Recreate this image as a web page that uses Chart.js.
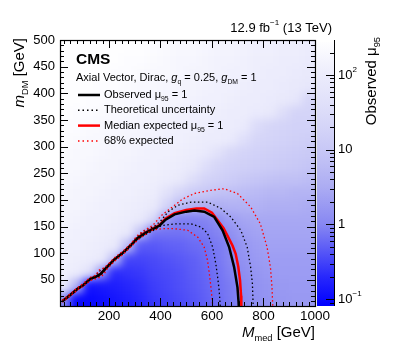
<!DOCTYPE html>
<html>
<head>
<meta charset="utf-8">
<script src="https://cdn.jsdelivr.net/npm/chart.js@4.4.1/dist/chart.umd.min.js"></script>
<style>
  html, body { margin: 0; padding: 0; background: #fff; }
</style>
</head>
<body>
<canvas id="chart" width="399" height="351"></canvas>
<script>
// --- DATA ---
// heatmap bins (GeV)
const medEdges = [0, 50, 100, 150, 200, 250, 300, 350, 400, 450, 500, 550, 600, 650, 700, 750, 800, 850, 900, 950, 1000];
const dmEdges = [0, 25, 50, 75, 100, 125, 150, 175, 200, 225, 250, 275, 300, 325, 350, 375, 400, 425, 450, 475, 500];
// log10(observed mu95), rows from top (m_DM 475-500) to bottom (0-25)
const logMu = [
  [2.44, 2.44, 2.44, 2.44, 2.44, 2.44, 2.44, 2.4, 2.35, 2.3, 2.3, 2.25, 2.2, 2.2, 2.15, 2.1, 2.1, 2.05, 2.05, 2.0],
  [2.44, 2.44, 2.44, 2.44, 2.44, 2.4, 2.4, 2.35, 2.3, 2.25, 2.25, 2.2, 2.15, 2.15, 2.1, 2.05, 2.05, 2.0, 2.0, 1.95],
  [2.44, 2.44, 2.44, 2.44, 2.4, 2.4, 2.35, 2.3, 2.3, 2.25, 2.2, 2.2, 2.15, 2.1, 2.1, 2.05, 2.0, 2.0, 1.95, 1.9],
  [2.44, 2.44, 2.44, 2.4, 2.4, 2.35, 2.3, 2.3, 2.25, 2.2, 2.2, 2.15, 2.1, 2.1, 2.05, 2.0, 2.0, 1.95, 1.9, 1.85],
  [2.44, 2.44, 2.4, 2.4, 2.35, 2.3, 2.3, 2.25, 2.2, 2.2, 2.15, 2.1, 2.1, 2.05, 2.0, 2.0, 1.95, 1.9, 1.8, 1.35],
  [2.44, 2.4, 2.4, 2.35, 2.3, 2.3, 2.25, 2.2, 2.2, 2.15, 2.1, 2.1, 2.05, 2.0, 2.0, 1.95, 1.9, 1.55, 1.3, 1.3],
  [2.4, 2.4, 2.35, 2.3, 2.3, 2.25, 2.2, 2.2, 2.15, 2.1, 2.1, 2.05, 2.0, 2.0, 1.95, 1.5, 1.35, 1.3, 1.25, 1.25],
  [2.4, 2.35, 2.3, 2.3, 2.25, 2.2, 2.2, 2.15, 2.1, 2.1, 2.05, 2.0, 2.0, 1.95, 1.6, 1.35, 1.3, 1.25, 1.2, 1.15],
  [2.35, 2.3, 2.3, 2.25, 2.2, 2.2, 2.15, 2.1, 2.1, 2.05, 2.0, 1.95, 1.7, 1.4, 1.3, 1.25, 1.2, 1.15, 1.1, 1.05],
  [2.3, 2.3, 2.25, 2.2, 2.2, 2.15, 2.1, 2.1, 2.05, 2.0, 1.9, 1.6, 1.35, 1.25, 1.2, 1.15, 1.1, 1.05, 1.0, 0.95],
  [2.3, 2.25, 2.2, 2.2, 2.15, 2.1, 2.1, 2.05, 2.0, 1.9, 1.55, 1.3, 1.2, 1.1, 1.0, 0.95, 0.9, 0.85, 0.85, 0.8],
  [2.25, 2.2, 2.2, 2.15, 2.1, 2.1, 2.05, 2.0, 1.7, 1.35, 1.1, 1.0, 0.9, 0.85, 0.8, 0.75, 0.7, 0.7, 0.65, 0.65],
  [2.2, 2.2, 2.15, 2.1, 2.1, 2.05, 2.0, 1.9, 1.3, 0.8, 0.6, 0.55, 0.55, 0.6, 0.6, 0.6, 0.55, 0.55, 0.55, 0.5],
  [2.2, 2.15, 2.1, 2.1, 2.05, 2.0, 1.9, 1.4, 0.2, -0.05, -0.05, -0.02, 0.1, 0.3, 0.4, 0.45, 0.45, 0.45, 0.45, 0.45],
  [2.15, 2.1, 2.1, 2.05, 2.0, 1.9, 0.9, -0.15, -0.15, -0.15, -0.12, -0.1, -0.02, 0.12, 0.3, 0.38, 0.4, 0.4, 0.4, 0.4],
  [2.1, 2.1, 2.05, 2.0, 1.9, 0.8, -0.35, -0.35, -0.3, -0.28, -0.22, -0.18, -0.1, 0.02, 0.2, 0.3, 0.35, 0.35, 0.35, 0.35],
  [2.1, 2.05, 2.0, 1.9, 0.8, -0.5, -0.5, -0.45, -0.4, -0.35, -0.3, -0.22, -0.12, 0.0, 0.15, 0.25, 0.3, 0.3, 0.3, 0.3],
  [2.05, 2.0, 1.6, 0.2, -0.68, -0.62, -0.58, -0.5, -0.45, -0.4, -0.32, -0.25, -0.15, -0.04, 0.1, 0.2, 0.25, 0.28, 0.28, 0.28],
  [1.9, 0.6, -0.9, -0.85, -0.8, -0.72, -0.65, -0.55, -0.48, -0.42, -0.35, -0.28, -0.18, -0.08, 0.05, 0.15, 0.2, 0.24, 0.26, 0.26],
  [0.0, -1.0, -1.0, -0.95, -0.88, -0.8, -0.7, -0.6, -0.52, -0.45, -0.38, -0.3, -0.2, -0.1, 0.02, 0.12, 0.18, 0.22, 0.24, 0.24]
];

// contours (M_med, m_DM) in GeV
const obsMed = [19, 40, 60, 77, 100, 128, 150, 167, 192, 220, 257, 285, 308, 330, 346, 370, 397, 420, 455, 500, 532, 570, 609, 641, 667, 686, 699, 703, 704];
const obsDm  = [10, 18, 26, 33, 40, 52, 56, 61, 74, 88, 102, 115, 127, 134, 139, 145, 152, 163, 173, 178, 180, 178, 168, 143, 111, 74, 36, 10, 1];
const thUpMed = [19, 40, 60, 77, 100, 128, 150, 160, 170, 192, 220, 257, 285, 308, 330, 350, 375, 400, 430, 468, 519, 583, 635, 673, 712, 737, 750, 757, 760];
const thUpDm  = [11, 19, 27, 34, 42, 54, 58, 66, 68, 76, 90, 104, 117, 130, 140, 145, 150, 160, 178, 190, 196, 196, 184, 168, 143, 111, 74, 43, 1];
const thDnMed = [19, 40, 60, 77, 100, 128, 150, 160, 175, 192, 220, 257, 285, 308, 330, 370, 404, 455, 519, 558, 583, 603, 615, 622, 628, 632];
const thDnDm  = [9, 17, 25, 32, 39, 50, 54, 56, 62, 72, 86, 100, 113, 124, 132, 142, 152, 155, 155, 149, 137, 111, 80, 55, 30, 1];
const expMed = [19, 40, 60, 77, 100, 128, 150, 167, 192, 220, 257, 285, 308, 330, 346, 370, 397, 420, 455, 500, 540, 570, 600, 622, 645, 660, 680, 692, 702, 709, 713, 714];
const expDm  = [10, 18, 26, 33, 40, 52, 56, 61, 74, 88, 102, 115, 127, 136, 140, 146, 153, 165, 175, 181, 184, 184, 176, 162, 147, 133, 114, 99, 75, 49, 20, 1];
const exp68UpMed = [19, 40, 60, 77, 100, 128, 150, 160, 172, 192, 220, 257, 285, 308, 330, 370, 404, 455, 487, 532, 596, 647, 699, 750, 788, 814, 827, 833, 836];
const exp68UpDm  = [12, 20, 28, 35, 43, 55, 59, 68, 70, 77, 91, 105, 118, 132, 141, 152, 171, 190, 202, 212, 218, 221, 212, 187, 155, 111, 74, 36, 1];
const exp68DnMed = [19, 40, 60, 77, 100, 128, 150, 165, 180, 192, 220, 257, 285, 308, 320, 345, 365, 404, 455, 506, 545, 570, 583, 590, 596, 603];
const exp68DnDm  = [8, 16, 24, 31, 38, 49, 52, 55, 60, 70, 84, 99, 112, 123, 128, 136, 143, 146, 146, 143, 130, 111, 86, 61, 36, 1];

// axis ticks
const xTicks = [200, 400, 600, 800, 1000];
const yTicks = [50, 100, 150, 200, 250, 300, 350, 400, 450, 500];
const muTicks = [0.1, 1, 10, 100];

// --- STYLE ---
const FONT = "'Liberation Sans', Arial, Helvetica, sans-serif";
const palLog = [-1.09, -0.7, -0.3, 0, 0.5, 1.0, 1.5, 2.0, 2.47];
const palRGB = [[0, 0, 255], [40, 40, 252], [95, 95, 246], [135, 135, 242], [172, 172, 243], [200, 200, 246], [220, 220, 249], [236, 236, 252], [255, 255, 255]];

function colorFor(L) {
  if (L <= palLog[0]) return `rgb(${palRGB[0].join(',')})`;
  for (let i = 1; i < palLog.length; i++) {
    if (L <= palLog[i]) {
      const t = (L - palLog[i - 1]) / (palLog[i] - palLog[i - 1]);
      const c = palRGB[i - 1].map((v, k) => Math.round(v + t * (palRGB[i][k] - v)));
      return `rgb(${c.join(',')})`;
    }
  }
  return `rgb(${palRGB[palRGB.length - 1].join(',')})`;
}

const toPts = (xs, ys) => xs.map((v, i) => ({ x: v, y: ys[i] }));

// draw text made of pieces: {t, sub, sup, it, b}
function richWidth(ctx, parts, size) {
  let w = 0;
  parts.forEach(p => {
    const s = (p.sub || p.sup) ? size * 0.62 : size;
    ctx.font = `${p.it ? 'italic ' : ''}${p.b ? 'bold ' : ''}${s}px ${FONT}`;
    w += ctx.measureText(p.t).width;
  });
  return w;
}
function drawRich(ctx, parts, x, y, size, align) {
  let cx = align === 'right' ? x - richWidth(ctx, parts, size) : x;
  ctx.textAlign = 'left';
  ctx.textBaseline = 'middle';
  parts.forEach(p => {
    const s = (p.sub || p.sup) ? size * 0.62 : size;
    ctx.font = `${p.it ? 'italic ' : ''}${p.b ? 'bold ' : ''}${s}px ${FONT}`;
    const dy = p.sub ? size * 0.38 : (p.sup ? -size * 0.38 : 0);
    ctx.fillText(p.t, cx, y + dy);
    cx += ctx.measureText(p.t).width;
  });
}

// --- PLUGINS ---
// cells are painted on a scratch canvas, then copied in with a soft blur like the ROOT smoothing
const heatmap = {
  id: 'heatmap',
  beforeDatasetsDraw(chart) {
    const { ctx, chartArea: a, scales: { x, y } } = chart;
    const off = document.createElement('canvas');
    off.width = chart.width;
    off.height = chart.height;
    const o = off.getContext('2d');
    const nRows = logMu.length, nCols = medEdges.length - 1, pad = 20;
    logMu.forEach((row, r) => {
      const mLo = dmEdges[nRows - 1 - r], mHi = dmEdges[nRows - r];
      let y0 = y.getPixelForValue(mHi), y1 = y.getPixelForValue(mLo);
      if (r === 0) y0 -= pad;
      if (r === nRows - 1) y1 += pad;
      row.forEach((L, c) => {
        let x0 = x.getPixelForValue(medEdges[c]), x1 = x.getPixelForValue(medEdges[c + 1]);
        if (c === 0) x0 -= pad;
        if (c === nCols - 1) x1 += pad;
        o.fillStyle = colorFor(L);
        o.fillRect(Math.floor(x0), Math.floor(y0), Math.ceil(x1 - x0) + 1, Math.ceil(y1 - y0) + 1);
      });
    });
    ctx.save();
    ctx.beginPath();
    ctx.rect(a.left, a.top, a.right - a.left, a.bottom - a.top);
    ctx.clip();
    ctx.filter = 'blur(4px)';
    ctx.drawImage(off, 0, 0);
    ctx.restore();
  }
};

const decorations = {
  id: 'decorations',
  afterDraw(chart) {
    const { ctx, chartArea: a, scales: { x, y, mu } } = chart;
    ctx.save();

    // colour bar
    const barL = a.right + 2, barR = a.right + 19;
    const top = mu.getPixelForValue(mu.max), bot = mu.getPixelForValue(mu.min);
    const grad = ctx.createLinearGradient(0, top, 0, bot);
    palLog.forEach((L, i) => {
      const p = (mu.getPixelForValue(Math.pow(10, L)) - top) / (bot - top);
      grad.addColorStop(Math.min(1, Math.max(0, p)), `rgb(${palRGB[i].join(',')})`);
    });
    ctx.fillStyle = grad;
    ctx.fillRect(barL, top + 2, barR - barL, bot - top - 2);

    // colour bar ticks
    ctx.strokeStyle = '#000';
    ctx.lineWidth = 1;
    ctx.beginPath();
    for (let d = -2; d <= 2; d++) {
      for (let k = 1; k <= 9; k++) {
        const v = k * Math.pow(10, d);
        if (v < mu.min || v > mu.max) continue;
        const py = Math.round(mu.getPixelForValue(v)) + 0.5;
        const len = k === 1 ? 8 : 4;
        ctx.moveTo(barR, py);
        ctx.lineTo(barR - len, py);
      }
    }
    ctx.moveTo(barR + 0.5, top);
    ctx.lineTo(barR + 0.5, bot);
    ctx.stroke();

    // colour bar labels
    ctx.fillStyle = '#000';
    const muLabels = { 0.1: [{ t: '10' }, { t: '\u22121', sup: true }], 1: [{ t: '1' }], 10: [{ t: '10' }], 100: [{ t: '10' }, { t: '2', sup: true }] };
    muTicks.forEach(v => drawRich(ctx, muLabels[v], barR + 4, mu.getPixelForValue(v), 13, 'left'));

    // frame and inward ticks
    ctx.strokeStyle = '#000';
    ctx.lineWidth = 1;
    ctx.beginPath();
    for (let v = 25; v <= 1000; v += 25) {
      if (v < x.min) continue;
      const px = Math.round(x.getPixelForValue(v)) + 0.5;
      const len = v % 200 === 0 ? 8 : 4;
      ctx.moveTo(px, a.bottom); ctx.lineTo(px, a.bottom - len);
      ctx.moveTo(px, a.top); ctx.lineTo(px, a.top + len);
    }
    for (let v = 10; v <= 500; v += 10) {
      const py = Math.round(y.getPixelForValue(v)) + 0.5;
      const len = v % 50 === 0 ? 8 : 4;
      ctx.moveTo(a.left, py); ctx.lineTo(a.left + len, py);
      ctx.moveTo(a.right, py); ctx.lineTo(a.right - len, py);
    }
    ctx.stroke();
    ctx.lineWidth = 1.2;
    ctx.strokeRect(Math.round(a.left) + 0.5, Math.round(a.top) + 0.5, Math.round(a.right - a.left), Math.round(a.bottom - a.top));

    // axis titles
    ctx.fillStyle = '#000';
    drawRich(ctx, [{ t: 'M', it: true }, { t: 'med', sub: true }, { t: ' [GeV]' }], a.right, 333, 15, 'right');

    ctx.save();
    ctx.translate(20, a.top - 2);
    ctx.rotate(-Math.PI / 2);
    drawRich(ctx, [{ t: 'm', it: true }, { t: 'DM', sub: true }, { t: ' [GeV]' }], 0, 0, 15, 'right');
    ctx.restore();

    ctx.save();
    ctx.translate(372, a.top - 3);
    ctx.rotate(-Math.PI / 2);
    drawRich(ctx, [{ t: 'Observed \u03bc' }, { t: '95', sub: true }], 0, 0, 15, 'right');
    ctx.restore();

    // luminosity label
    drawRich(ctx, [{ t: '12.9 fb' }, { t: '\u22121', sup: true }, { t: ' (13 TeV)' }], 332, 28, 13, 'right');

    // CMS label and model text
    drawRich(ctx, [{ t: 'CMS', b: true }], 76, 60, 15.5, 'left');
    drawRich(ctx, [{ t: 'Axial Vector, Dirac, ' }, { t: 'g', it: true }, { t: 'q', sub: true },
      { t: ' = 0.25, ' }, { t: 'g', it: true }, { t: 'DM', sub: true }, { t: ' = 1' }], 76, 78, 11, 'left');

    // legend
    const legend = [
      { color: '#000', dash: [], w: 2.5, parts: [{ t: 'Observed \u03bc' }, { t: '95', sub: true }, { t: ' = 1' }] },
      { color: '#000', dash: [1.5, 3], w: 1.5, parts: [{ t: 'Theoretical uncertainty' }] },
      { color: '#ff0000', dash: [], w: 2.5, parts: [{ t: 'Median expected \u03bc' }, { t: '95', sub: true }, { t: ' = 1' }] },
      { color: '#ff0000', dash: [1.5, 3], w: 1.5, parts: [{ t: '68% expected' }] }
    ];
    legend.forEach((e, i) => {
      const ly = 95 + i * 15.3;
      ctx.strokeStyle = e.color;
      ctx.lineWidth = e.w;
      ctx.setLineDash(e.dash);
      ctx.beginPath();
      ctx.moveTo(78, ly); ctx.lineTo(100, ly);
      ctx.stroke();
      ctx.setLineDash([]);
      ctx.fillStyle = '#000';
      drawRich(ctx, e.parts, 104, ly, 11, 'left');
    });

    ctx.restore();
  }
};

// --- CHART ---
const dotted = [1.5, 2.5];
new Chart(document.getElementById('chart'), {
  type: 'scatter',
  data: {
    datasets: [
      { label: '68% expected (up)', data: toPts(exp68UpMed, exp68UpDm), borderColor: '#ff0000', borderWidth: 1.3, borderDash: dotted },
      { label: '68% expected (down)', data: toPts(exp68DnMed, exp68DnDm), borderColor: '#ff0000', borderWidth: 1.3, borderDash: dotted },
      { label: 'Theoretical uncertainty (up)', data: toPts(thUpMed, thUpDm), borderColor: '#000', borderWidth: 1.3, borderDash: dotted },
      { label: 'Theoretical uncertainty (down)', data: toPts(thDnMed, thDnDm), borderColor: '#000', borderWidth: 1.3, borderDash: dotted },
      { label: 'Observed', data: toPts(obsMed, obsDm), borderColor: '#000', borderWidth: 2.5 },
      { label: 'Median expected', data: toPts(expMed, expDm), borderColor: '#ff0000', borderWidth: 2.5 }
    ].map(d => Object.assign(d, { showLine: true, pointRadius: 0, tension: 0, fill: false }))
  },
  options: {
    responsive: false,
    devicePixelRatio: 1,
    animation: false,
    layout: { padding: { top: 40, right: 84, left: 0, bottom: 0 } },
    plugins: { legend: { display: false }, tooltip: { enabled: false } },
    scales: {
      x: {
        type: 'linear', min: 10, max: 1000, position: 'bottom',
        grid: { display: false, drawTicks: false }, border: { display: false },
        afterBuildTicks: s => { s.ticks = xTicks.map(v => ({ value: v })); },
        afterFit: s => { s.height = 45; },
        ticks: { color: '#000', font: { family: FONT, size: 13.5 }, padding: 2, maxRotation: 0, autoSkip: false, callback: v => String(v) }
      },
      y: {
        type: 'linear', min: 1, max: 500, position: 'left',
        grid: { display: false, drawTicks: false }, border: { display: false },
        afterBuildTicks: s => { s.ticks = yTicks.map(v => ({ value: v })); },
        afterFit: s => { s.width = 60; },
        ticks: { color: '#000', font: { family: FONT, size: 13 }, padding: 5, autoSkip: false, callback: v => String(v) }
      },
      mu: {
        type: 'logarithmic', min: 0.081, max: 294, position: 'right', display: false
      }
    }
  },
  plugins: [heatmap, decorations]
});
</script>
</body>
</html>
